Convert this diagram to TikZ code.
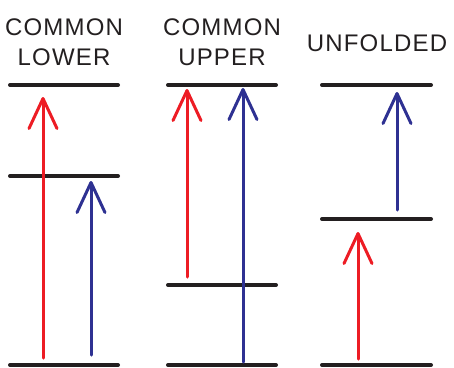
\documentclass[tikz,border=0pt]{standalone}
\usepackage{fontspec}
\setmainfont{Liberation Sans}[LetterSpace=5]
\usetikzlibrary{arrows.meta}
\definecolor{lvlblack}{HTML}{231F20}
\definecolor{redarrow}{HTML}{ED1C24}
\definecolor{bluearrow}{HTML}{2E3192}
\tikzset{
  level/.style={line width=4pt, line cap=round, color=lvlblack},
  trans/.style={line width=3pt, line cap=round,
    -{Straight Barb[length=30pt, width=28pt, line cap=round, line join=round]}},
  redtrans/.style={trans, color=redarrow},
  bluetrans/.style={trans, color=bluearrow},
  caption/.style={font=\fontsize{24}{30}\selectfont, text=lvlblack, align=center, inner sep=0pt}
}
\begin{document}
\begin{tikzpicture}[x=1pt, y=-1pt]
\useasboundingbox (0,0) rectangle (454,367);

% captions
\node[caption] (capA) at (64,42) {COMMON\\LOWER};
\node[caption] (capB) at (222,42) {COMMON\\UPPER};
\node[caption] (capC) at (377,43) {UNFOLDED};

% energy levels
\draw[level] (10,85) -- (118,85);
\draw[level] (10,176) -- (118,176);
\draw[level] (10,365) -- (118,365);

\draw[level] (168,85) -- (276,85);
\draw[level] (168,285) -- (276,285);
\draw[level] (168,365) -- (276,365);

\draw[level] (322,85) -- (431,85);
\draw[level] (322,219) -- (431,219);
\draw[level] (322,365) -- (431,365);

% transition end points
\coordinate (a1s) at (43,358);  \coordinate (a1e) at (43,97);
\coordinate (a2s) at (91,355);  \coordinate (a2e) at (91,181);
\coordinate (b1s) at (187,277); \coordinate (b1e) at (187,89);
\coordinate (b2s) at (243,362); \coordinate (b2e) at (243,88);
\coordinate (c1s) at (358,359); \coordinate (c1e) at (358,232);
\coordinate (c2s) at (397,210); \coordinate (c2e) at (397,92);

% transitions
\draw[redtrans]  (a1s) -- (a1e);
\draw[bluetrans] (a2s) -- (a2e);
\draw[redtrans]  (b1s) -- (b1e);
\draw[bluetrans] (b2s) -- (b2e);
\draw[redtrans]  (c1s) -- (c1e);
\draw[bluetrans] (c2s) -- (c2e);
\end{tikzpicture}
\end{document}
